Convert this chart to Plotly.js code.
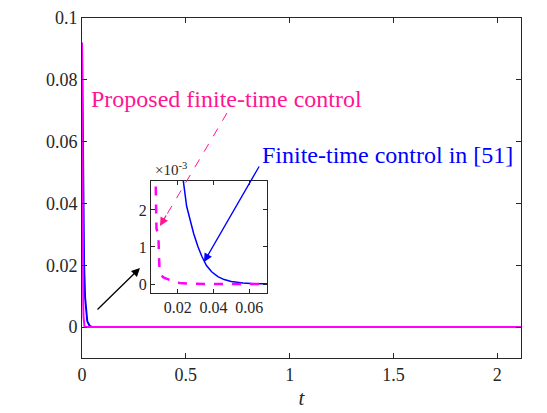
<!DOCTYPE html>
<html>
<head>
<meta charset="utf-8">
<script src="https://cdn.plot.ly/plotly-3.0.1.min.js"></script>
<style>html,body{margin:0;padding:0;background:#fff;}#plot{width:547px;height:413px;}</style>
</head>
<body>
<div id="plot"></div>
<script>
// ---- data ----
const tBlue = [0, 0.003, 0.006, 0.010, 0.015, 0.019, 0.0231, 0.025, 0.027, 0.029, 0.0314, 0.0335, 0.0361, 0.039, 0.0425, 0.046, 0.050, 0.0565, 0.063, 0.070, 0.080, 2.114];
const yBlue = [0.092, 0.060, 0.038, 0.020, 0.0095, 0.0055, 0.0028, 0.0021, 0.0017, 0.00135, 0.0010, 0.00075, 0.0005, 0.00033, 0.0002, 0.00012, 0.00007, 0.000025, 0.00001, 0.000003, 0, 0];
const tMag = [0, 0.002, 0.004, 0.006, 0.0075, 0.0081, 0.0092, 0.0097, 0.0105, 0.012, 0.014, 0.017, 0.021, 0.026, 0.035, 2.114];
const yMag = [0.092, 0.045, 0.018, 0.007, 0.0032, 0.0015, 0.0013, 0.0005, 0.00025, 0.00018, 0.00014, 0.00008, 0.00003, 0.00001, 0, 0];
const mainXTicks = [0, 0.5, 1, 1.5, 2];
const mainYTicks = [0, 0.02, 0.04, 0.06, 0.08, 0.1];
const insetXTicks = [0.02, 0.04, 0.06];
const insetYTicks = [0, 0.001, 0.002];
const insetYTickText = ['0', '1', '2'];
const labelProposed = 'Proposed finite-time control';
const labelRef = 'Finite-time control in [51]';
const xTitle = '<i>t</i>';

const FONT = 'Liberation Serif, Times New Roman, serif';
const AX = '#262626';
const MAG = '#ff00ff';
const PINK = '#ff1493';
const BLUE = '#0000ff';

const traces = [
  {x: tBlue, y: yBlue, type: 'scatter', mode: 'lines', line: {color: BLUE, width: 2}, xaxis: 'x', yaxis: 'y', hoverinfo: 'skip'},
  {x: tMag, y: yMag, type: 'scatter', mode: 'lines', line: {color: MAG, width: 2}, xaxis: 'x', yaxis: 'y', hoverinfo: 'skip'},
  {x: tBlue, y: yBlue, type: 'scatter', mode: 'lines', line: {color: BLUE, width: 1.5}, xaxis: 'x2', yaxis: 'y2', hoverinfo: 'skip'},
  {x: tMag, y: yMag, type: 'scatter', mode: 'lines', line: {color: MAG, width: 2.5, dash: 'dash'}, xaxis: 'x2', yaxis: 'y2', hoverinfo: 'skip'}
];

const axisCommon = {
  showline: true, linecolor: AX, linewidth: 1, mirror: 'ticks',
  ticks: 'inside', tickcolor: AX, tickwidth: 1,
  showgrid: false, zeroline: false, color: AX
};

const layout = {
  width: 547, height: 413,
  margin: {l: 82, r: 26, t: 18, b: 55, pad: 0},
  paper_bgcolor: '#fff', plot_bgcolor: '#fff',
  showlegend: false,
  font: {family: FONT, color: AX, size: 18},
  xaxis: Object.assign({}, axisCommon, {
    domain: [0, 1], range: [0, 2.114], tickvals: mainXTicks, ticklen: 5,
    tickfont: {size: 18, family: FONT, color: AX},
    title: {text: xTitle, font: {size: 21, family: FONT, color: AX}, standoff: 6},
    anchor: 'y'
  }),
  yaxis: Object.assign({}, axisCommon, {
    domain: [0, 1], range: [-0.01, 0.1], tickvals: mainYTicks, ticklen: 5,
    tickfont: {size: 18, family: FONT, color: AX},
    anchor: 'x'
  }),
  xaxis2: Object.assign({}, axisCommon, {
    domain: [0.157, 0.4214], range: [0.005, 0.07], tickvals: insetXTicks, ticklen: 4,
    tickfont: {size: 16, family: FONT, color: AX},
    anchor: 'y2'
  }),
  yaxis2: Object.assign({}, axisCommon, {
    domain: [0.192, 0.5215], range: [-0.000235, 0.00279], tickvals: insetYTicks, ticktext: insetYTickText, ticklen: 4,
    tickfont: {size: 16, family: FONT, color: AX},
    anchor: 'x2'
  }),
  shapes: [
    {type: 'line', xref: 'paper', yref: 'paper', x0: 0.3303, y0: 0.7206, x1: 0.1893, y1: 0.4135,
     line: {color: PINK, width: 1, dash: 'dash'}}
  ],
  annotations: [
    {xref: 'paper', yref: 'paper', x: 0.329, y: 0.762, xanchor: 'center', yanchor: 'middle',
     text: labelProposed, showarrow: false, font: {size: 24, family: FONT, color: PINK}},
    {xref: 'paper', yref: 'paper', x: 0.6948, y: 0.5956, xanchor: 'center', yanchor: 'middle',
     text: labelRef, showarrow: false, font: {size: 24, family: FONT, color: BLUE}},
    {xref: 'paper', yref: 'paper', x: 0.1617, y: 0.523, xanchor: 'left', yanchor: 'bottom',
     text: '×10<sup>-3</sup>', showarrow: false, font: {size: 15, family: FONT, color: AX}},
    // arrows
    {xref: 'paper', yref: 'paper', x: 0.1321, y: 0.2647, ax: -44, ay: 43, text: '', showarrow: true,
     arrowhead: 2, arrowsize: 1.3, arrowwidth: 1.3, arrowcolor: '#000'},
    {xref: 'paper', yref: 'paper', x: 0.2779, y: 0.2824, ax: 56, ay: -97, text: '', showarrow: true,
     arrowhead: 2, arrowsize: 1.3, arrowwidth: 1.3, arrowcolor: BLUE},
    {xref: 'paper', yref: 'paper', x: 0.1777, y: 0.3882, ax: 7, ay: -12, text: '', showarrow: true,
     arrowhead: 2, arrowsize: 1.3, arrowwidth: 1.3, arrowcolor: PINK}
  ]
};

Plotly.newPlot('plot', traces, layout, {staticPlot: true, displayModeBar: false});
</script>
</body>
</html>
